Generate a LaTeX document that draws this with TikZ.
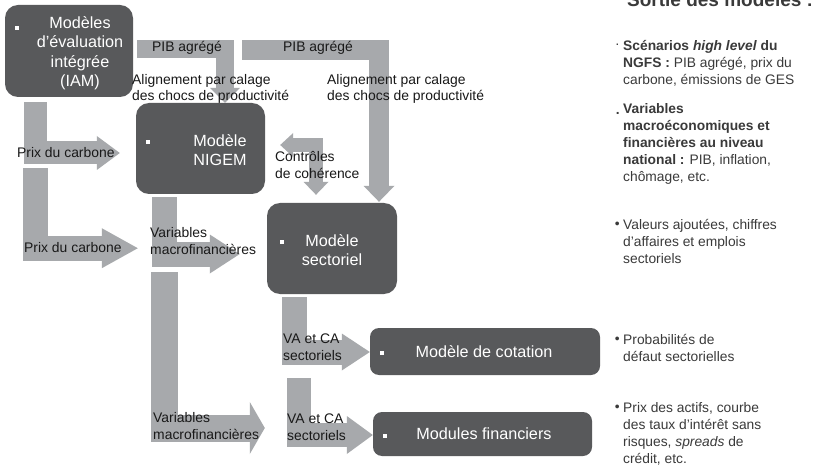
\documentclass[tikz,border=0pt]{standalone}
\usepackage{fontspec}
\setmainfont{Liberation Sans}
\usetikzlibrary{positioning,arrows.meta,calc}
\definecolor{boxgray}{HTML}{58595B}
\definecolor{flowgray}{HTML}{A7A9AC}
\definecolor{inkgray}{HTML}{3A3A3A}

\begin{document}
\begin{tikzpicture}[
    x=1pt, y=-1pt,
    model/.style={rectangle, rounded corners=13pt, fill=boxgray, inner sep=0pt},
    modeltext/.style={text=white, align=center, inner sep=0pt,
                      font=\fontsize{16.2}{19.5}\selectfont},
    flow/.style={draw=flowgray, line width=#1},
    lbl/.style={anchor=west, align=left, inner sep=0pt, text=black!90,
                font=\fontsize{13.9}{16.5}\selectfont},
    outtext/.style={anchor=north west, align=left, inner sep=0pt, text=inkgray,
                font=\fontsize{13.8}{17}\selectfont},
    sq/.style={fill=white, minimum size=4.5pt, inner sep=0pt}
]
  \path[use as bounding box, fill=white] (0,0) rectangle (819,465);

  % Model boxes
  \node[model, minimum width=128pt, minimum height=92pt] (iam) at (69,51) {};
  \node[model, minimum width=129pt, minimum height=91pt] (nigem) at (200.5,148.5) {};
  \node[model, minimum width=130pt, minimum height=91pt] (sect) at (332,248.5) {};
  \node[model, minimum width=230pt, minimum height=47pt, rounded corners=9pt] (cot) at (485,351.5) {};
  \node[model, minimum width=219pt, minimum height=44pt, rounded corners=9pt] (fin) at (482.5,434) {};

  % Flows
  \draw[flow=18pt, -{Triangle[length=15pt,width=30pt,line width=0pt]}]
    ($(iam.north east)+(4,44)$) -| ($(nigem.north)+(24.5,0)$);
  \draw[flow=20pt, -{Triangle[length=16pt,width=31pt,line width=0pt]}]
    ($(iam.north east)+(109,45)$) -| ($(sect.north)+(47,-1)$);
  \draw[flow=23pt, -{Triangle[length=23pt,width=34pt,line width=0pt]}]
    ($(iam.south west)+(31,5)$) |- ($(nigem.west)+(-16,4.5)$);
  \draw[flow=25pt, -{Triangle[length=36pt,width=40pt,line width=0pt]}]
    ($(iam.south west)+(31,71)$) |- ($(nigem.south west)+(2,54)$);
  \draw[flow=25pt, -{Triangle[length=30pt,width=39pt,line width=0pt]}]
    ($(nigem.south west)+(28.5,3)$) |- ($(sect.west)+(-27,5.5)$);
  \draw[flow=27pt, -{Triangle[length=15pt,width=52pt,line width=0pt]}]
    ($(nigem.south west)+(28.5,78)$) |- ($(fin.west)+(-108,-6)$);
  \draw[flow=25pt, -{Triangle[length=28pt,width=37pt,line width=0pt]}]
    ($(sect.south west)+(28,3)$) |- ($(cot.west)+(0,0.5)$);
  \draw[flow=24pt, -{Triangle[length=26pt,width=38pt,line width=0pt]}]
    ($(sect.south west)+(32.5,84)$) |- ($(fin.west)+(0,1)$);
  \draw[flow=14pt, {Triangle[length=13pt,width=24pt,line width=0pt]}-{Triangle[length=13pt,width=25pt,line width=0pt]}]
    ($(nigem.east)+(15,-3.5)$) -| ($(sect.north)+(-16,-8)$);

  % Box texts
  \node[modeltext] (iamtxt) at ($(iam.center)+(11,2)$) {Modèles\\d’évaluation\\intégrée\\(IAM)};
  \node[modeltext] (nigemtxt) at ($(nigem.center)+(19.5,1.5)$) {Modèle\\NIGEM};
  \node[modeltext] (secttxt) at ($(sect.center)+(0,1.5)$) {Modèle\\sectoriel};
  \node[modeltext] (cottxt) at ($(cot.center)+(-1,0.5)$) {Modèle de cotation};
  \node[modeltext] (fintxt) at ($(fin.center)+(1.5,0)$) {Modules financiers};
  \node[sq] (iamsq) at ($(iam.north west)+(12,23)$) {};
  \node[sq] (nigemsq) at ($(nigem.north west)+(12,39)$) {};
  \node[sq] (sectsq) at ($(sect.north west)+(15,39)$) {};
  \node[sq] (cotsq) at ($(cot.west)+(12,1.5)$) {};
  \node[sq] (finsq) at ($(fin.west)+(12,2)$) {};

  % Flow labels
  \node[lbl] (pib1) at (152,48) {PIB agrégé};
  \node[lbl] (pib2) at (283,48) {PIB agrégé};
  \node[lbl] (align1) at (132,89) {Alignement par calage\\des chocs de productivité};
  \node[lbl] (align2) at (327,89) {Alignement par calage\\des chocs de productivité};
  \node[lbl] (ctrl) at (275,165) {Contrôles\\de cohérence};
  \node[lbl] (prix1) at (17,153) {Prix du carbone};
  \node[lbl] (prix2) at (24,248) {Prix du carbone};
  \node[lbl] (var1) at (150,241) {Variables\\macrofinancières};
  \node[lbl] (var2) at (153,426) {Variables\\macrofinancières};
  \node[lbl] (va1) at (283,347) {VA et CA\\sectoriels};
  \node[lbl] (va2) at (287,427) {VA et CA\\sectoriels};

  % Outputs column
  \node[anchor=base west, inner sep=0pt, text=inkgray, font=\bfseries\fontsize{19}{22}\selectfont]
    (title) at (627,7) {Sortie des modèles :};
  \node[outtext] (out1) at (623,40) {\textbf{Scénarios \textit{high level} du}\\\textbf{NGFS :} PIB agrégé, prix du\\carbone, émissions de GES};
  \node[outtext] (out2) at (623,103) {\textbf{Variables}\\\textbf{macroéconomiques et}\\\textbf{financières au niveau}\\\textbf{national :} PIB, inflation,\\chômage, etc.};
  \node[outtext] (out3) at (623,219) {Valeurs ajoutées, chiffres\\d’affaires et emplois\\sectoriels};
  \node[outtext] (out4) at (623,334) {Probabilités de\\défaut sectorielles};
  \node[outtext] (out5) at (623,402) {Prix des actifs, courbe\\des taux d’intérêt sans\\risques, \textit{spreads} de\\crédit, etc.};
  \node[outtext, anchor=east] (dot1) at (out1.north west) [xshift=-3pt, yshift=-6pt] {·};
  \node[outtext, anchor=east, font=\bfseries\fontsize{13.8}{17}\selectfont] (dot2) at (out2.north west) [xshift=-3pt, yshift=-10pt] {.};
  \node[outtext, anchor=east] (dot3) at (out3.north west) [xshift=-3pt, yshift=-6pt] {•};
  \node[outtext, anchor=east] (dot4) at (out4.north west) [xshift=-3pt, yshift=-6pt] {•};
  \node[outtext, anchor=east] (dot5) at (out5.north west) [xshift=-3pt, yshift=-6pt] {•};
\end{tikzpicture}
\end{document}
